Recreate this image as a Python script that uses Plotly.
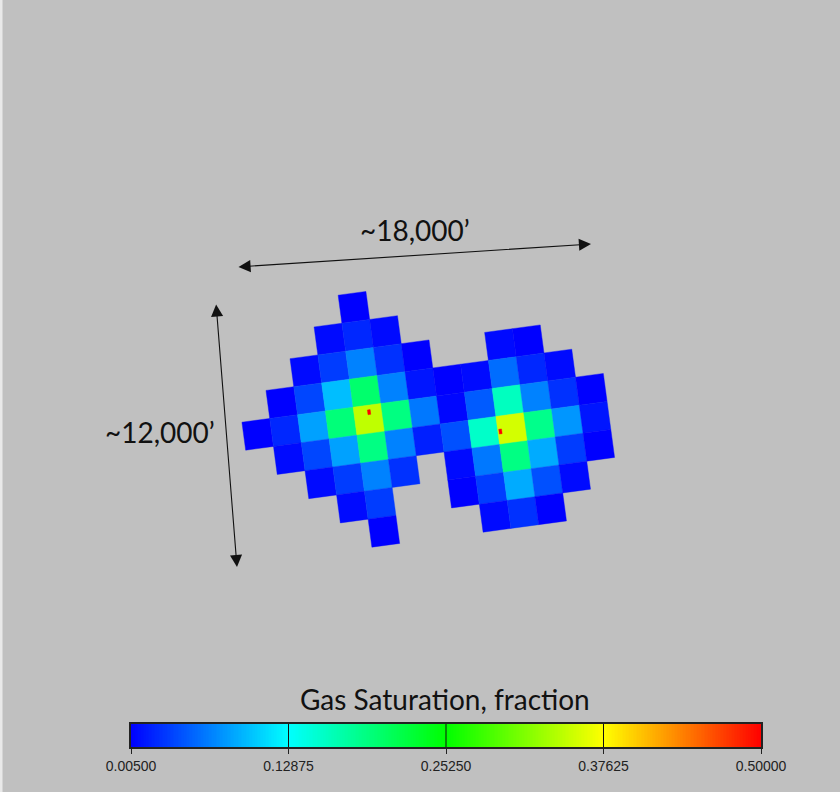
import numpy as np
import plotly.graph_objects as go
from plotly.colors import sample_colorscale

# ---- data ----
first_col = [0, -1, -2, -3, -4, -3, -2, -1, 0]
row_index = [-4, -3, -2, -1, 0, 1, 2, 3, 4]
row_m4 = [.005]
row_m3 = [.010, .024, .010]
row_m2 = [.010, .034, .068, .029, .005, None, None, .010, .005]
row_m1 = [.005, .039, .097, .200, .068, .015, .005, .010, .058, .024, .010]
row_0 = [.005, .024, .083, .194, .345, .190, .063, .008, .049, .160, .068, .029, .005]
row_p1 = [.010, .039, .083, .189, .068, .020, .044, .155, .355, .185, .078, .015]
row_p2 = [.010, .034, .068, .029, None, .010, .063, .189, .088, .034, .005]
row_p3 = [.010, .034, None, None, .005, .034, .088, .044, .010]
row_p4 = [.005, None, None, None, .010, .029, .005]
rows = [row_m4, row_m3, row_m2, row_m1, row_0, row_p1, row_p2, row_p3, row_p4]

well_col = [0.04, 4.59]
well_row = [-0.25, 1.05]
well_sat = [0.5, 0.5]

bar_ticks = [0.005, 0.12875, 0.2525, 0.37625, 0.5]
bar_labels = ["0.00500", "0.12875", "0.25250", "0.37625", "0.50000"]
title_text = "Gas Saturation, fraction"

# ---- styling / grid geometry ----
BG = "#c0c0c0"
ORIGIN = np.array([368.9, 419.3])
U = np.array([27.8, -3.75])
V = np.array([3.75, 28.0])
scale = [[0, "rgb(0,0,255)"], [.25, "rgb(0,255,255)"], [.5, "rgb(0,255,0)"],
         [.75, "rgb(255,255,0)"], [1, "rgb(255,0,0)"]]
vmin, vmax = bar_ticks[0], bar_ticks[-1]


def colour(v):
    return sample_colorscale(scale, [(v - vmin) / (vmax - vmin)])[0]


def add_cell(fig, ci, cj, v, w=1.0, h=1.0):
    corners = [(ci - w / 2, cj - h / 2), (ci + w / 2, cj - h / 2),
               (ci + w / 2, cj + h / 2), (ci - w / 2, cj + h / 2),
               (ci - w / 2, cj - h / 2)]
    pts = [ORIGIN + a * U + b * V for a, b in corners]
    c = colour(v)
    fig.add_trace(go.Scatter(x=[p[0] for p in pts], y=[p[1] for p in pts], mode="lines",
                             fill="toself", fillcolor=c, line=dict(color=c, width=0.4),
                             hoverinfo="skip", showlegend=False))


fig = go.Figure()
for j, start, vals in zip(row_index, first_col, rows):
    for k, v in enumerate(vals):
        if v is not None:
            add_cell(fig, start + k, j, v)
for ci, cj, v in zip(well_col, well_row, well_sat):
    add_cell(fig, ci, cj, v, 0.1, 0.17)

# colour bar as a heat map on its own axis
bar_x = np.linspace(vmin, vmax, 400)
fig.add_trace(go.Heatmap(x=bar_x, y=[0, 1], z=[bar_x, bar_x], colorscale=scale, zmin=vmin, zmax=vmax,
                         showscale=False, hoverinfo="skip", xaxis="x2", yaxis="y2"))

shapes = [dict(type="rect", xref="paper", yref="paper", x0=0, x1=2.5 / 840, y0=0, y1=1,
               fillcolor="#e9e9e9", line_width=0, layer="below")]
for t in bar_ticks[1:-1]:
    shapes.append(dict(type="line", xref="x2", yref="y2 domain", x0=t, x1=t, y0=0, y1=1,
                       line=dict(color="#111111", width=1)))

annotations = [
    dict(x=415, y=230, text="~18,000’", showarrow=False, font=dict(family="Lato", size=28, color="#111111")),
    dict(x=160, y=432, text="~12,000’", showarrow=False, font=dict(family="Lato", size=28, color="#111111")),
    dict(x=445, y=699, text=title_text, showarrow=False, font=dict(family="Lato", size=28, color="#111111")),
]
for (x0, y0, x1, y1) in [(237, 267, 591, 244), (216, 303, 237, 567)]:
    annotations.append(dict(x=x1, y=y1, ax=x0, ay=y0, xref="x", yref="y", axref="x", ayref="y", text="",
                            showarrow=True, arrowside="end+start", arrowhead=2, arrowsize=2.2,
                            arrowwidth=1.1, arrowcolor="#111111"))

fig.update_layout(
    width=840, height=792, margin=dict(l=0, r=0, t=0, b=0, autoexpand=False),
    paper_bgcolor=BG, plot_bgcolor=BG, showlegend=False,
    shapes=shapes, annotations=annotations,
    xaxis=dict(range=[0, 840], domain=[0, 1], visible=False, fixedrange=True),
    yaxis=dict(range=[792, 0], domain=[0, 1], visible=False, fixedrange=True),
    xaxis2=dict(domain=[131 / 840, 761 / 840], range=[vmin, vmax], anchor="y2",
                tickvals=bar_ticks, ticktext=bar_labels, ticks="outside", ticklen=5, tickcolor="#222222",
                tickfont=dict(family="Liberation Sans", size=14, color="#222222"),
                showgrid=False, zeroline=False, showline=True, linecolor="#222222", linewidth=1.5,
                mirror=True, fixedrange=True),
    yaxis2=dict(domain=[1 - 747 / 792, 1 - 724 / 792], range=[0, 1], anchor="x2", visible=True,
                showticklabels=False, ticks="", showgrid=False, zeroline=False, showline=True,
                linecolor="#222222", linewidth=1.5, mirror=True, fixedrange=True),
)

fig.write_html("out.html", post_script="document.body.style.margin='0';document.body.style.background='#c0c0c0';",
               config={"displayModeBar": False})
